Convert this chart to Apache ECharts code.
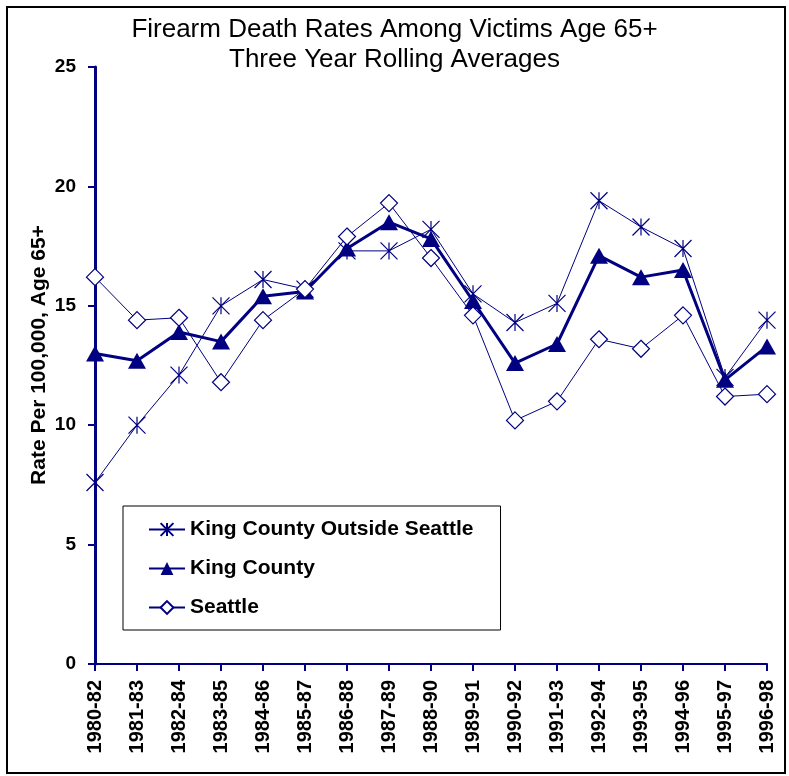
<!DOCTYPE html>
<html>
<head>
<meta charset="utf-8">
<script src="https://cdn.jsdelivr.net/npm/echarts@6/dist/echarts.min.js"></script>
<style>
  html, body { margin: 0; padding: 0; background: #fff; }
  #main { width: 789px; height: 776px; }
</style>
</head>
<body>
<div id="main"></div>
<script>
const periods = ["1980-82", "1981-83", "1982-84", "1983-85", "1984-86", "1985-87", "1986-88", "1987-89",
  "1988-90", "1989-91", "1990-92", "1991-93", "1992-94", "1993-95", "1994-96", "1995-97", "1996-98"];
const outsideSeattle = [7.6, 10.0, 12.1, 15.0, 16.1, 15.7, 17.3, 17.3, 18.2, 15.5, 14.3, 15.1, 19.4, 18.3, 17.4, 12.0, 14.4];
const kingCounty = [13.0, 12.7, 13.9, 13.5, 15.4, 15.6, 17.4, 18.5, 17.8, 15.2, 12.6, 13.4, 17.1, 16.2, 16.5, 11.9, 13.3];
const seattle = [16.2, 14.4, 14.5, 11.8, 14.4, 15.7, 17.9, 19.3, 17.0, 14.6, 10.2, 11.0, 13.6, 13.2, 14.6, 11.2, 11.3];
const seriesNames = ["King County Outside Seattle", "King County", "Seattle"];

const navy = "#000080";
const asterisk = "path://M0,0L10,10M10,0L0,10M5,0L5,10";

const chart = echarts.init(document.getElementById("main"));

const option = {
  backgroundColor: "#fff",
  animation: false,
  title: {
    text: "Firearm Death Rates Among Victims Age 65+\nThree Year Rolling Averages",
    left: "center",
    top: 10,
    textStyle: {
      fontFamily: "Liberation Sans",
      fontWeight: "normal",
      fontSize: 26,
      lineHeight: 30,
      color: "#000",
    },
  },
  graphic: [
    {
      type: "rect",
      shape: { x: 7, y: 7, width: 778, height: 766 },
      style: { fill: "none", stroke: "#000", lineWidth: 2 },
      silent: true,
    },
    {
      // y-axis title, drawn as text so it can sit a bit off-centre like the original
      type: "text",
      x: 39,
      y: 355,
      rotation: Math.PI / 2,
      style: {
        text: "Rate Per 100,000, Age 65+",
        font: "bold 21px 'Liberation Sans'",
        fill: "#000",
        align: "center",
        verticalAlign: "middle",
      },
    },
  ],
  legend: {
    orient: "vertical",
    left: 123,
    top: 506,
    padding: [13, 27, 12, 25],
    itemGap: 18,
    itemWidth: 36,
    itemHeight: 16,
    borderColor: "#000",
    borderWidth: 1,
    backgroundColor: "#fff",
    data: seriesNames,
    textStyle: {
      fontFamily: "Liberation Sans",
      fontWeight: "bold",
      fontSize: 21,
      color: "#000",
    },
  },
  grid: { left: 95, right: 22, top: 67, bottom: 112 },
  xAxis: {
    type: "category",
    data: periods,
    boundaryGap: false,
    axisLine: { lineStyle: { color: navy, width: 2 } },
    axisTick: { show: true, length: 7, lineStyle: { color: navy, width: 2 } },
    axisLabel: {
      rotate: 90,
      interval: 0,
      margin: 16,
      fontFamily: "Liberation Sans",
      fontWeight: "bold",
      fontSize: 20,
      color: "#000",
    },
    splitLine: { show: false },
  },
  yAxis: {
    type: "value",
    min: 0,
    max: 25,
    interval: 5,
    axisLine: { show: true, lineStyle: { color: navy, width: 3 } },
    axisTick: { show: true, length: 7, lineStyle: { color: navy, width: 2 } },
    axisLabel: {
      margin: 19,
      fontFamily: "Liberation Sans",
      fontWeight: "bold",
      fontSize: 19,
      color: "#000",
    },
    splitLine: { show: false },
  },
  series: [
    {
      name: seriesNames[0],
      type: "line",
      data: outsideSeattle,
      symbol: asterisk,
      symbolSize: 17,
      lineStyle: { color: navy, width: 1 },
      itemStyle: { color: navy, borderColor: navy, borderWidth: 1.2 },
    },
    {
      name: seriesNames[1],
      type: "line",
      data: kingCounty,
      symbol: "triangle",
      symbolSize: [18, 16],
      lineStyle: { color: navy, width: 3 },
      itemStyle: { color: navy },
    },
    {
      name: seriesNames[2],
      type: "line",
      data: seattle,
      symbol: "diamond",
      symbolSize: 17,
      lineStyle: { color: navy, width: 1 },
      itemStyle: { color: "#fff", borderColor: navy, borderWidth: 1.2 },
    },
  ],
};

chart.setOption(option);
</script>
</body>
</html>
